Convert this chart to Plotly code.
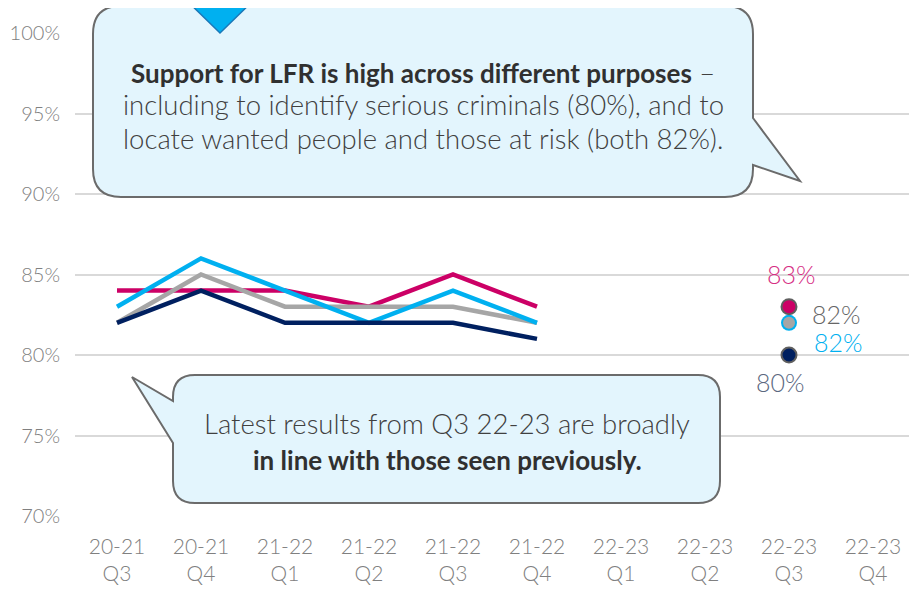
import plotly.graph_objects as go

categories = ["20-21<br>Q3", "20-21<br>Q4", "21-22<br>Q1", "21-22<br>Q2", "21-22<br>Q3",
              "21-22<br>Q4", "22-23<br>Q1", "22-23<br>Q2", "22-23<br>Q3", "22-23<br>Q4"]
hist_cats = categories[:6]
magenta_vals = [84, 84, 84, 83, 85, 83]
blue_vals = [83, 86, 84, 82, 84, 82]
gray_vals = [82, 85, 83, 83, 83, 82]
navy_vals = [82, 84, 82, 82, 82, 81]
latest_cat = categories[8]
latest_magenta = 83
latest_blue = 82
latest_gray = 82
latest_navy = 80
y_ticks = [70, 75, 80, 85, 90, 95, 100]

MAG = "#cc0066"
BLUE = "#00b0f0"
GRAY = "#a6a6a6"
NAVY = "#002060"

OFF = 8  # page body margin
W, H = 917, 591
L, R, T, B = 67, 10, 25, 83
PW, PH = W - L - R, H - T - B

def px(x):
    return (x - OFF - L) / PW

def py(y):
    return (H - B - (y - OFF)) / PH

def path(cmds):
    out = []
    for c in cmds:
        if c[0] == "Z":
            out.append("Z")
        elif c[0] == "Q":
            out.append(f"Q {px(c[1]):.5f},{py(c[2]):.5f} {px(c[3]):.5f},{py(c[4]):.5f}")
        else:
            out.append(f"{c[0]} {px(c[1]):.5f},{py(c[2]):.5f}")
    return " ".join(out)

fig = go.Figure()
for vals, col in [(magenta_vals, MAG), (gray_vals, GRAY), (blue_vals, BLUE), (navy_vals, NAVY)]:
    fig.add_trace(go.Scatter(x=hist_cats, y=vals, mode="lines",
                             line=dict(color=col, width=4.5), showlegend=False))

fig.add_trace(go.Scatter(x=[latest_cat], y=[latest_blue], mode="markers",
                         marker=dict(size=16, color=BLUE, line=dict(width=0)), showlegend=False))
fig.add_trace(go.Scatter(x=[latest_cat], y=[latest_gray], mode="markers",
                         marker=dict(size=12, color=GRAY, line=dict(width=0)), showlegend=False))
fig.add_trace(go.Scatter(x=[latest_cat], y=[latest_magenta], mode="markers",
                         marker=dict(size=15, color=MAG, line=dict(width=2, color="#5f5f5f")), showlegend=False))
fig.add_trace(go.Scatter(x=[latest_cat], y=[latest_navy], mode="markers",
                         marker=dict(size=15, color=NAVY, line=dict(width=2, color="#5f5f5f")), showlegend=False))

FONT = "Lato"
LSZ = 25
def dlab(val, color, xs, ys):
    return dict(x=latest_cat, y=val, text=f"{val}%", xshift=xs, yshift=ys, xref="x", yref="y",
                showarrow=False, font=dict(family=FONT, size=LSZ, color=color, weight=300))

annotations = [
    dlab(latest_magenta, "#d62e84", 2, 33),
    dlab(latest_gray, "#666666", 47, 9),
    dlab(latest_blue, BLUE, 49, -19),
    dlab(latest_navy, "#5b6880", -9, -27),
]

TXT = "#404040"
CSZ = 27.5
def tline(x, y, text):
    return dict(xref="paper", yref="paper", x=px(x), y=py(y), text=text, showarrow=False,
                xanchor="center", yanchor="middle",
                font=dict(family=FONT, size=CSZ, color=TXT, weight=300))

BOLD = "<b style='color:#303030;font-size:26px'>"
annotations += [
    tline(423, 72, BOLD + "Support for LFR is high across different purposes</b> –"),
    tline(423, 105, "including to identify serious criminals (80%), and to"),
    tline(423, 138, "locate wanted people and those at risk (both 82%)."),
    tline(447, 423, "Latest results from Q3 22-23 are broadly"),
    tline(447, 460, BOLD + "in line with those seen previously.</b>"),
]

# Callout 1
x0, y0, x1, y1, r = 93, 6, 753, 197, 28
c1 = path([("M", x0 + r, y0), ("L", x1 - r, y0), ("Q", x1, y0, x1, y0 + r),
           ("L", x1, 118), ("L", 800, 181), ("L", x1, 165),
           ("L", x1, y1 - r), ("Q", x1, y1, x1 - r, y1), ("L", x0 + r, y1),
           ("Q", x0, y1, x0, y1 - r), ("L", x0, y0 + r), ("Q", x0, y0, x0 + r, y0), ("Z",)])
# Callout 2
x0, y0, x1, y1, r = 173, 375, 720, 503, 22
c2 = path([("M", x0 + r, y0), ("L", x1 - r, y0), ("Q", x1, y0, x1, y0 + r),
           ("L", x1, y1 - r), ("Q", x1, y1, x1 - r, y1), ("L", x0 + r, y1),
           ("Q", x0, y1, x0, y1 - r), ("L", x0, 443), ("L", 132, 377), ("L", x0, 401),
           ("L", x0, y0 + r), ("Q", x0, y0, x0 + r, y0), ("Z",)])
tri = path([("M", 180, -6), ("L", 260, -6), ("L", 220, 33), ("Z",)])

shapes = [
    dict(type="path", path=c1, xref="paper", yref="paper", fillcolor="#e3f5fd",
         line=dict(color="#6b6b6b", width=2), layer="above"),
    dict(type="path", path=c2, xref="paper", yref="paper", fillcolor="#e3f5fd",
         line=dict(color="#6b6b6b", width=2), layer="above"),
    dict(type="path", path=tri, xref="paper", yref="paper", fillcolor=BLUE,
         line=dict(color="#1a78b8", width=1.5), layer="above"),
]

XTICKF = dict(family=FONT, size=21, color="#808080", weight=300)
YTICKF = dict(family=FONT, size=20, color="#808080", weight=300)
fig.update_layout(
    width=W, height=H, margin=dict(l=L, r=R, t=T, b=B),
    paper_bgcolor="white", plot_bgcolor="white",
    xaxis=dict(type="category", categoryorder="array", categoryarray=categories,
               range=[-0.5, 9.5], showgrid=False, zeroline=False, showline=False,
               ticks="", tickfont=XTICKF, ticklabelstandoff=16, automargin=False),
    yaxis=dict(range=[70, 100], tickvals=y_ticks, ticktext=[f"{v}%" for v in y_ticks],
               showgrid=True, gridcolor="#d9d9d9", gridwidth=1.5, zeroline=False,
               showline=False, ticks="", ticklabelstandoff=14, tickfont=YTICKF,
               automargin=False),
    annotations=annotations, shapes=shapes,
)
fig.write_html("out.html")
